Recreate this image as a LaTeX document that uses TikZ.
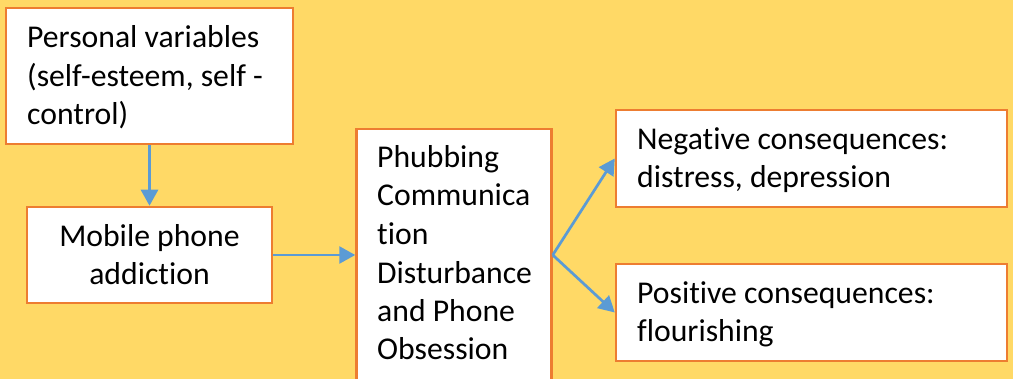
\documentclass[tikz,border=0pt]{standalone}
\usepackage{fontspec}
\setmainfont[Ligatures=NoCommon]{Carlito}
\usetikzlibrary{arrows.meta}
\definecolor{bgyel}{HTML}{FFD966}
\definecolor{boxor}{HTML}{ED7D31}
\definecolor{arrbl}{HTML}{5B9BD5}
\begin{document}
\begin{tikzpicture}[x=1pt,y=-1pt,
  box/.style={draw=boxor,fill=white,line width=2.5pt,rectangle,inner sep=0pt},
  txt/.style={inner sep=0pt,font=\fontsize{31.7}{38.5}\selectfont,align=left},
  ctxt/.style={inner sep=0pt,font=\fontsize{31.7}{38.5}\selectfont,align=center},
  conn/.style={draw=arrbl,line width=2.7pt,-{Triangle[length=16pt,width=17pt]}}]
\fill[bgyel] (0,0) rectangle (1013,379);
\useasboundingbox (0,0) rectangle (1013,379);
\clip (0,0) rectangle (1013,379);
\node[box,minimum width=287pt,minimum height=136pt] (b1) at (149.5,76) {};
\node[box,minimum width=245pt,minimum height=96pt] (b2) at (149.5,255) {};
\node[box,minimum width=195pt,minimum height=272pt] (b3) at (454,265) {};
\node[box,minimum width=391pt,minimum height=97pt] (b4) at (811.5,158.5) {};
\node[box,minimum width=391pt,minimum height=97pt] (b5) at (811.5,312.5) {};
\node[txt,anchor=base west] (t1) at (27,125) {Personal variables\\(self-esteem, self -\\control)};
\node[ctxt,anchor=base] (t2) at (149.5,285) {Mobile phone\\addiction};
\node[txt,anchor=base west] (t3) at (377,360) {Phubbing\\Communica\\tion\\Disturbance\\and Phone\\Obsession};
\node[txt,anchor=base west] (t4) at (637,188) {Negative consequences:\\distress, depression};
\node[txt,anchor=base west] (t5) at (637,342) {Positive consequences:\\flourishing};
\coordinate (split) at (b3.east |- b2.east);
\draw[conn] (b1.south) -- (b2.north);
\draw[conn] (b2.east) -- (b2.east -| b3.west);
\draw[conn] (split) -- (b4.west);
\draw[conn] (split) -- (b5.west);
\end{tikzpicture}
\end{document}
